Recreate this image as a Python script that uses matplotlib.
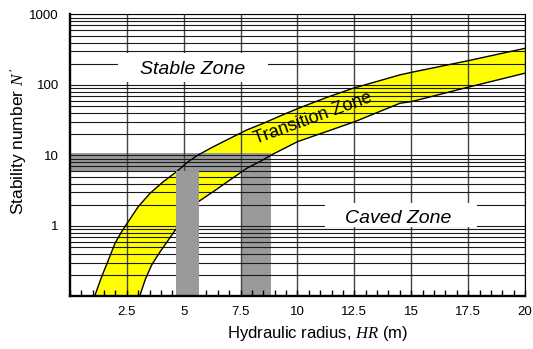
import numpy as np
import matplotlib
matplotlib.use("Agg")
import matplotlib.pyplot as plt
from matplotlib.patches import Rectangle
from matplotlib.ticker import MultipleLocator, LogLocator, FixedLocator, NullFormatter

plt.rcParams['font.family'] = ['Liberation Sans', 'DejaVu Sans']
plt.rcParams['mathtext.fontset'] = 'custom'
plt.rcParams['mathtext.it'] = 'Liberation Serif:italic'
plt.rcParams['mathtext.rm'] = 'Liberation Serif'

# upper / left boundary of transition zone (HR, N')
upper_hr = [1.08, 1.39, 1.69, 1.98, 2.27, 2.56, 3.00, 3.52, 4.10, 4.69, 5.20, 5.64, 6.30,
            7.03, 7.77, 8.50, 9.23, 10.04, 11.25, 12.45, 14.5, 15.0, 17.5, 20.0]
upper_n = [0.1, 0.19, 0.33, 0.57, 0.83, 1.15, 1.88, 2.91, 4.25, 5.9, 8.2, 10.2, 13.3,
           17.5, 23.0, 28.6, 36.3, 46.7, 66.0, 90.0, 139.0, 151.0, 221.0, 331.0]

# lower / right boundary
lower_hr = [3.06, 3.30, 3.59, 3.96, 4.32, 4.69, 5.20, 5.64, 6.30, 7.03, 7.77, 8.35, 8.86,
            10.0, 12.5, 14.5, 15.0, 17.5, 20.0]
lower_n = [0.1, 0.171, 0.28, 0.43, 0.63, 0.93, 1.45, 2.21, 3.07, 4.49, 6.58, 8.2, 10.2,
           15.7, 30.0, 55.0, 58.0, 93.0, 147.0]

# shaded design ranges
n_range = [6.1, 10.7]
hr_range_1 = [4.66, 5.67]
hr_range_2 = [7.5, 8.82]

fig = plt.figure(figsize=(5.33, 3.49), dpi=100)
ax = fig.add_axes([0.1313, 0.1505, 0.8537, 0.808])
ax.set_yscale('log')
ax.set_xlim(0, 20)
ax.set_ylim(0.1, 1000)

# yellow transition band
poly_x = upper_hr + lower_hr[::-1]
poly_y = upper_n + lower_n[::-1]
ax.fill(poly_x, poly_y, color='#ffff00', lw=0, zorder=1)

gray = '#9a9a9a'
ax.fill_between([0, hr_range_2[1]], n_range[0], n_range[1], color=gray, lw=0, zorder=2)
ax.fill_between(hr_range_1, n_range[0], n_range[1], color=gray, lw=0, zorder=2)
ax.fill_between(hr_range_1, 0.1, n_range[0], color=gray, lw=0, zorder=4.5)
ax.fill_between(hr_range_2, 0.1, n_range[1], color=gray, lw=0, zorder=2)

ax.plot(upper_hr, upper_n, color='k', lw=1.0, zorder=4)
ax.plot(lower_hr, lower_n, color='k', lw=1.0, zorder=4)

# grid
ax.xaxis.set_major_locator(MultipleLocator(2.5))
ax.xaxis.set_minor_locator(MultipleLocator(0.5))
ax.yaxis.set_major_locator(FixedLocator([1, 10, 100, 1000]))
ax.yaxis.set_minor_locator(LogLocator(base=10, subs=np.arange(1, 10), numticks=20))
ax.yaxis.set_minor_formatter(NullFormatter())
ax.set_axisbelow(False)
ax.yaxis.grid(True, which='both', color='#1a1a1a', lw=0.8, zorder=5)
ax.xaxis.grid(True, which='major', color='#444444', lw=1.0, zorder=5)

ax.set_xticks([2.5, 5, 7.5, 10, 12.5, 15, 17.5, 20])
ax.set_xticklabels(['2.5', '5', '7.5', '10', '12.5', '15', '17.5', '20'])
ax.set_yticks([1, 10, 100, 1000])
ax.set_yticklabels(['1', '10', '100', '1000'])
ax.tick_params(axis='x', which='both', direction='in', length=4, width=1.0, labelsize=9.5, pad=7)
ax.tick_params(axis='y', which='both', length=0, labelsize=9.5, pad=8)

for s in ['left', 'bottom']:
    ax.spines[s].set_linewidth(1.7)
for s in ['top', 'right']:
    ax.spines[s].set_linewidth(0.8)
for s in ax.spines.values():
    s.set_zorder(8)

ax.set_xlabel('Hydraulic radius, $HR$ (m)', fontsize=12)
ax.set_ylabel("Stability number $N\\,'$", fontsize=12.5)
ax.xaxis.set_label_coords(0.545, -0.13)
ax.xaxis.label.set_va('center')
ax.yaxis.set_label_coords(-0.114, 0.551)
ax.yaxis.label.set_va('center')

# white boxes breaking the grid behind the zone labels
ax.add_patch(Rectangle((0.1055, 0.761), 0.3295, 0.102, transform=ax.transAxes,
                       fc='white', ec='none', zorder=6))
ax.add_patch(Rectangle((0.560, 0.246), 0.335, 0.086, transform=ax.transAxes,
                       fc='white', ec='none', zorder=6))

ax.text(5.41, 143, 'Stable Zone', style='italic', fontsize=14, ha='center', va='baseline',
        zorder=7)
ax.text(14.42, 1.10, 'Caved Zone', style='italic', fontsize=14, ha='center', va='baseline',
        zorder=7)
ax.text(10.68, 34, 'Transition Zone', fontsize=13, ha='center', va='center',
        rotation=20, rotation_mode='anchor', zorder=7)

fig.savefig('out.png', dpi=100)
